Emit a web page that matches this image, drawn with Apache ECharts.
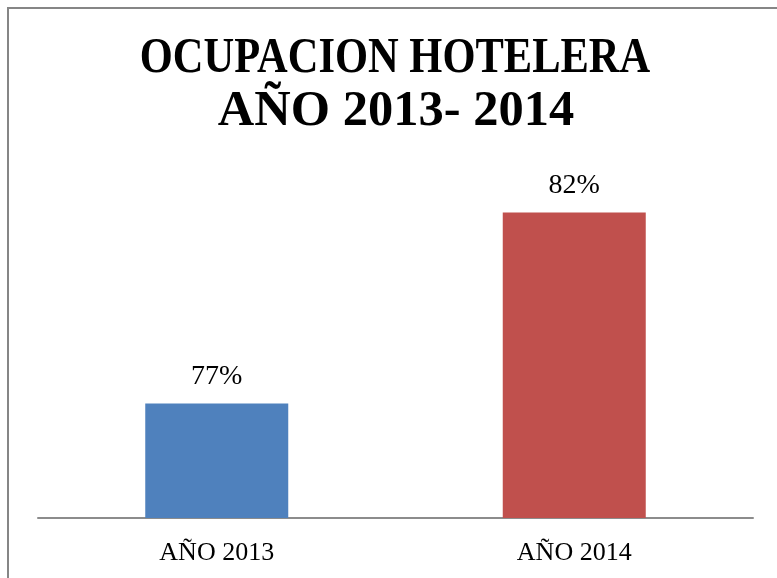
<!DOCTYPE html>
<html>
<head>
<meta charset="utf-8">
<script src="https://cdn.jsdelivr.net/npm/echarts@6/dist/echarts.min.js"></script>
<style>
html,body{margin:0;padding:0;background:#fff;}
#chart{width:777px;height:578px;}
</style>
</head>
<body>
<div id="chart"></div>
<script>
const titleLines = ['OCUPACION HOTELERA', 'AÑO 2013- 2014'];
const categories = ['AÑO 2013', 'AÑO 2014'];
const values = [77, 82];
const barColors = ['#4F81BD', '#C0504D'];
const axisMin = 74;
const axisMax = 84;

const FONT = '"Liberation Serif", serif';
const chart = echarts.init(document.getElementById('chart'));
chart.setOption({
  backgroundColor: '#ffffff',
  animation: false,
  graphic: [
    {
      type: 'rect', silent: true, z: 0,
      shape: { x: 8, y: 8, width: 800, height: 600 },
      style: { fill: 'none', stroke: '#868686', lineWidth: 2 }
    },
    {
      type: 'text', x: 395, y: 59, scaleX: 0.85,
      style: { text: titleLines[0], font: 'bold 50px ' + FONT, fill: '#000', textAlign: 'center', textVerticalAlign: 'middle' }
    },
    {
      type: 'text', x: 396, y: 112, scaleX: 1.01,
      style: { text: titleLines[1], font: 'bold 50px ' + FONT, fill: '#000', textAlign: 'center', textVerticalAlign: 'middle' }
    }
  ],
  grid: { left: 38, right: 24, top: 136, bottom: 60 },
  xAxis: {
    type: 'category',
    data: categories,
    axisLine: { lineStyle: { color: '#8c8c8c', width: 2 } },
    axisTick: { show: false },
    axisLabel: { color: '#000', fontFamily: FONT, fontSize: 26, margin: 22 }
  },
  yAxis: {
    type: 'value', min: axisMin, max: axisMax, show: false,
    splitLine: { show: false }
  },
  series: [{
    type: 'bar',
    barWidth: '40%',
    data: values.map((v, i) => ({ value: v, itemStyle: { color: barColors[i] } })),
    label: {
      show: true, position: 'top', distance: 13,
      formatter: p => p.value + '%',
      color: '#000', fontFamily: FONT, fontSize: 28
    }
  }]
});
</script>
</body>
</html>
